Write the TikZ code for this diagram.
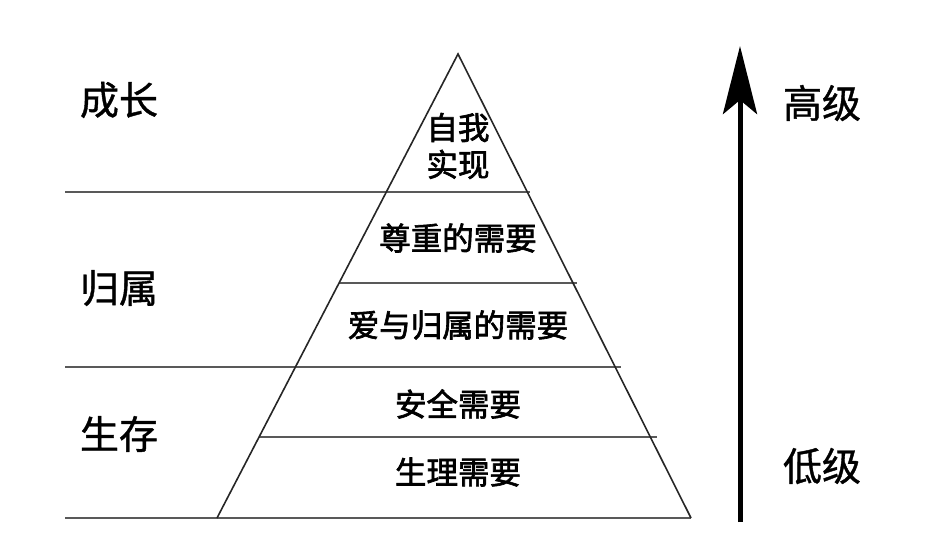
\documentclass[tikz,border=0pt]{standalone}
\usepackage{fontspec}
\setmainfont{Noto Sans CJK SC}
\newfontfamily\cjkinner{Noto Sans CJK SC}[FakeBold=2]
\newfontfamily\cjkbig{Noto Sans CJK SC}[FakeBold=1]
\usetikzlibrary{arrows.meta}
\begin{document}
\begin{tikzpicture}[x=1bp,y=-1bp,
  big/.style={font=\cjkbig\fontsize{39bp}{44bp}\selectfont, inner sep=0pt},
  inner/.style={font=\cjkinner\fontsize{31.5bp}{37bp}\selectfont, inner sep=0pt, align=center},
  hline/.style={draw=black!65, line width=2.2bp},
  side/.style={draw=black!85, line width=1.6bp},
  uparrow/.style={line width=5bp, -{Stealth[length=68bp,width=34bp,inset=14bp]}}]
\useasboundingbox (0,0) rectangle (932,538);
% pyramid corners
\coordinate (apex) at (458,54);
\coordinate (bl) at (217,518);
\coordinate (br) at (691,518);
% level lines
\coordinate (l1a) at (65,192);  \coordinate (l1b) at (530,192);
\coordinate (l2a) at (339,283); \coordinate (l2b) at (577,283);
\coordinate (l3a) at (65,367);  \coordinate (l3b) at (621,367);
\coordinate (l4a) at (259,437); \coordinate (l4b) at (657,437);
\coordinate (l5a) at (65,518);
\draw[hline] (l1a) -- (l1b);
\draw[hline] (l2a) -- (l2b);
\draw[hline] (l3a) -- (l3b);
\draw[hline] (l4a) -- (l4b);
\draw[hline] (l5a) -- (br);
\draw[side, line join=miter] (bl) -- (apex) -- (br);
% labels inside
\node[inner] (self) at (458,146) {自我\\实现};
\node[inner] (esteem) at (458,238) {尊重的需要};
\node[inner] (love) at (458,325) {爱与归属的需要};
\node[inner] (safety) at (458,404) {安全需要};
\node[inner] (phys) at (458,472) {生理需要};
% side labels
\node[big] (grow) at (119,100) {成长};
\node[big] (belong) at (119,288) {归属};
\node[big] (exist) at (119,434) {生存};
\node[big] (high) at (822,103) {高级};
\node[big] (low) at (822,466) {低级};
% arrow
\coordinate (abot) at (740,522);
\coordinate (atop) at (740,46);
\draw[uparrow] (abot) -- (atop);
\end{tikzpicture}
\end{document}
